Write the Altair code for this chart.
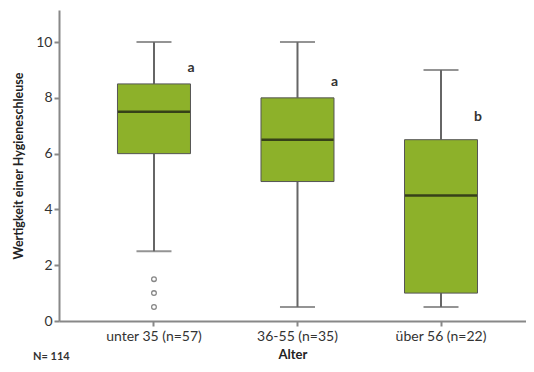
import altair as alt
import pandas as pd

groups = ["unter 35 (n=57)", "36-55 (n=35)", "über 56 (n=22)"]
lower = [2.5, 0.5, 0.5]
q1 = [6.0, 5.0, 1.0]
median = [7.5, 6.5, 4.5]
q3 = [8.5, 8.0, 6.5]
upper = [10.0, 10.0, 9.0]
letters = ["a", "a", "b"]
letter_y = [9.07, 8.57, 7.31]
outlier_group = ["unter 35 (n=57)"] * 3
outlier_vals = [1.5, 1.0, 0.5]

box = pd.DataFrame({"g": groups, "lo": lower, "q1": q1, "med": median,
                    "q3": q3, "hi": upper, "lab": letters, "ly": letter_y})
out = pd.DataFrame({"g": outlier_group, "v": outlier_vals})

FONT = "Lato"
xs = alt.X("g:N", sort=groups, title="Alter",
           scale=alt.Scale(paddingInner=0, paddingOuter=0.127, align=0.637),
           axis=alt.Axis(labelAngle=0, labelFontSize=14, labelColor="#333", labelFont=FONT,
                         titleFont=FONT, titleFontSize=13, titleFontWeight="bold", titleColor="#222",
                         titlePadding=5, domainColor="#888", domainWidth=2,
                         tickColor="#888", tickWidth=2, tickSize=5, labelPadding=3))
ys = alt.Scale(domain=[0, 11.15], nice=False)

base = alt.Chart(box)

whisk_lo = base.mark_rule(color="#666", strokeWidth=2).encode(
    x=xs, y=alt.Y("lo:Q", scale=ys,
                  title="Wertigkeit einer Hygieneschleuse",
                  axis=alt.Axis(values=[0, 2, 4, 6, 8, 10], labelFontSize=14, labelFont=FONT,
                                labelColor="#333", titleFont=FONT, titleFontSize=12.5,
                                titleFontWeight="bold", titleColor="#222",
                                domainColor="#888", domainWidth=2, tickColor="#888",
                                tickWidth=2, tickSize=5, grid=False, titlePadding=10,
                                labelPadding=2)),
    y2="q1:Q")
whisk_hi = base.mark_rule(color="#666", strokeWidth=2).encode(x=xs, y=alt.Y("q3:Q", scale=ys), y2="hi:Q")
cap_lo = base.mark_tick(color="#666", size=35, thickness=2, orient="horizontal").encode(x=xs, y=alt.Y("lo:Q", scale=ys))
cap_hi = base.mark_tick(color="#666", size=35, thickness=2, orient="horizontal").encode(x=xs, y=alt.Y("hi:Q", scale=ys))
bars = base.mark_bar(size=73, color="#8db12a", stroke="#555", strokeWidth=1).encode(
    x=xs, y=alt.Y("q1:Q", scale=ys), y2="q3:Q")
med = base.mark_tick(color="#111", size=72, thickness=2.5, orient="horizontal").encode(
    x=xs, y=alt.Y("med:Q", scale=ys))
labs = base.mark_text(dx=37, fontSize=14, fontWeight="bold", color="#333", font=FONT).encode(
    x=xs, y=alt.Y("ly:Q", scale=ys), text="lab:N")
pts = alt.Chart(out).mark_point(shape="circle", filled=False, size=22, color="#555", strokeWidth=1.3).encode(
    x=xs, y=alt.Y("v:Q", scale=ys))
ntext = alt.Chart(pd.DataFrame({"t": ["N= 114"]})).mark_text(
    align="left", baseline="middle", fontSize=11, fontWeight="bold", color="#333", font=FONT
).encode(x=alt.value(-26), y=alt.value(347), text="t:N")

chart = alt.layer(whisk_lo, whisk_hi, cap_lo, cap_hi, bars, med, pts, labs, ntext).properties(
    width=467, height=311,
    autosize=alt.AutoSizeParams(type="none"),
    padding={"left": 51, "top": 2, "right": 0, "bottom": 43},
    background="white",
).configure_view(stroke=None)

chart.save("out.html", embed_options={"renderer": "svg", "actions": False})
